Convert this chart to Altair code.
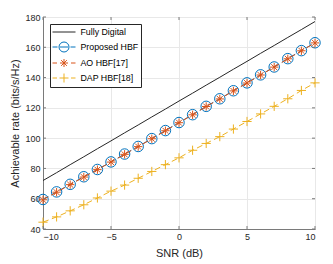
import altair as alt
import pandas as pd

snr = [-10, -9, -8, -7, -6, -5, -4, -3, -2, -1, 0, 1, 2, 3, 4, 5, 6, 7, 8, 9, 10]
fully_digital = [72, 77.2, 82.5, 87.7, 93, 98.2, 103.5, 108.7, 114, 119.2, 124.5,
                 129.7, 135, 140.2, 145.5, 150.7, 156, 161.2, 166.5, 171.7, 177]
proposed = [59.5, 64.5, 69.5, 74.5, 79.3, 84.3, 89.5, 94.5, 99.7, 105, 110.3,
            115.5, 121, 126, 131.3, 136.5, 141.8, 147, 152.5, 157.8, 163]
ao = [59.3, 64.3, 69.3, 74.3, 79.2, 84.2, 89.3, 94.4, 99.6, 104.9, 110.2,
      115.4, 120.9, 125.9, 131.2, 136.4, 141.7, 146.9, 152.4, 157.7, 162.9]
dap = [44.5, 48, 52, 56, 60.5, 65, 69, 73.5, 78, 82.5, 87,
       92, 96.5, 101, 106, 111, 116, 121, 126, 131.5, 136.5]

x_ticks = [-10, -5, 0, 5, 10]
y_ticks = [40, 60, 80, 100, 120, 140, 160, 180]

series = ["Fully Digital", "Proposed HBF", "AO HBF[17]", "DAP HBF[18]"]
colors = ["#262626", "#0072BD", "#D95319", "#EDB120"]

df = pd.DataFrame({"snr": snr, "fd": fully_digital, "prop": proposed, "ao": ao, "dap": dap})

FONT = "Liberation Sans"
AXC = "#7a7a7a"
YTITLE = "Achievable rate (bits/s/Hz)"
xscale = alt.Scale(domain=[-10, 10], nice=False)
yscale = alt.Scale(domain=[40, 180], nice=False)

X = alt.X("snr:Q", scale=xscale, title="SNR (dB)", axis=alt.Axis(values=x_ticks))


def Y(col):
    return alt.Y(f"{col}:Q", scale=yscale, title=YTITLE, axis=alt.Axis(values=y_ticks))


ASTERISK = "M-1,0L1,0M0,-1L0,1M-0.7,-0.7L0.7,0.7M-0.7,0.7L0.7,-0.7"
PLUS = "M-1,0L1,0M0,-1L0,1"
DASH = [6, 3.5]

base = alt.Chart(df)

fd_line = base.mark_line(color=colors[0], strokeWidth=1).encode(x=X, y=Y("fd"))
prop_line = base.mark_line(color=colors[1], strokeWidth=1, strokeDash=DASH).encode(x=X, y=Y("prop"))
prop_pts = base.mark_point(color=colors[1], shape="circle", size=110, strokeWidth=1,
                           filled=False, opacity=1).encode(x=X, y=Y("prop"))
ao_line = base.mark_line(color=colors[2], strokeWidth=1, strokeDash=DASH).encode(x=X, y=Y("ao"))
ao_pts = base.mark_point(color=colors[2], shape=ASTERISK, size=70, strokeWidth=1,
                         filled=False, opacity=1).encode(x=X, y=Y("ao"))
dap_line = base.mark_line(color=colors[3], strokeWidth=1, strokeDash=DASH).encode(x=X, y=Y("dap"))
dap_pts = base.mark_point(color=colors[3], shape=PLUS, size=85, strokeWidth=1,
                          filled=False, opacity=1).encode(x=X, y=Y("dap"))

# inward tick marks on all four sides (MATLAB box style)
xt_df = pd.DataFrame({"snr": x_ticks})
yt_df = pd.DataFrame({"fd": y_ticks})
tick_left = alt.Chart(yt_df).mark_rule(color=AXC, strokeWidth=1).encode(
    y=Y("fd"), x=alt.value(0), x2=alt.value(3))
tick_right = alt.Chart(yt_df).mark_rule(color=AXC, strokeWidth=1).encode(
    y=Y("fd"), x=alt.value(269), x2=alt.value(272))
tick_bottom = alt.Chart(xt_df).mark_rule(color=AXC, strokeWidth=1).encode(
    x=X, y=alt.value(209), y2=alt.value(212))
tick_top = alt.Chart(xt_df).mark_rule(color=AXC, strokeWidth=1).encode(
    x=X, y=alt.value(0), y2=alt.value(3))

# legend-only layer (empty data, explicit domains)
leg_shapes = [
    "M-2.3,0L2.3,0",
    "M-2.3,0L-1.3,0M-0.8,0L0.8,0M1.3,0L2.3,0M1,0A1,1 0 1,1 -1,0A1,1 0 1,1 1,0",
    "M-2.3,0L-1.4,0M-0.8,0L0.8,0M1.4,0L2.3,0M0,-0.8L0,0.8M-0.57,-0.57L0.57,0.57M-0.57,0.57L0.57,-0.57",
    "M-2.3,0L-1.4,0M-0.9,0L0.9,0M1.4,0L2.3,0M0,-0.9L0,0.9",
]
leg_df = pd.DataFrame({"snr": [0], "fd": [100], "series": ["Fully Digital"]})
legend_layer = alt.Chart(leg_df).transform_filter("false").mark_point(
    filled=False, strokeWidth=1, opacity=1
).encode(
    x=X, y=Y("fd"),
    color=alt.Color("series:N", scale=alt.Scale(domain=series, range=colors),
                    legend=alt.Legend(title=None, orient="none", legendX=7, legendY=7,
                                      symbolSize=100, symbolStrokeWidth=1,
                                      symbolOffset=6, labelOffset=11,
                                      padding=2.5, rowPadding=2,
                                      strokeColor="#262626", fillColor="white",
                                      labelFont=FONT, labelFontSize=8.8,
                                      labelColor="#000000", symbolType="circle")),
    shape=alt.Shape("series:N", scale=alt.Scale(domain=series, range=leg_shapes), legend=None),
)

chart = alt.layer(
    fd_line, prop_line, prop_pts, ao_line, ao_pts, dap_line, dap_pts,
    tick_left, tick_right, tick_bottom, tick_top, legend_layer
).properties(
    width=272, height=212,
    autosize=alt.AutoSizeParams(type="none"),
    padding={"left": 35, "top": 9, "right": 10, "bottom": 35},
).configure_view(
    stroke=AXC, strokeWidth=1
).configure_axis(
    labelFont=FONT, titleFont=FONT, labelFontSize=9, titleFontSize=11,
    labelColor="#262626", titleColor="#262626", titleFontWeight="normal",
    gridColor="#e8e8e8", gridOpacity=1, domainColor=AXC,
    ticks=False, labelPadding=3,
).configure_axisY(titlePadding=4).configure_axisX(titlePadding=6)

chart.save("out.html", embed_options={"renderer": "svg", "actions": False})
